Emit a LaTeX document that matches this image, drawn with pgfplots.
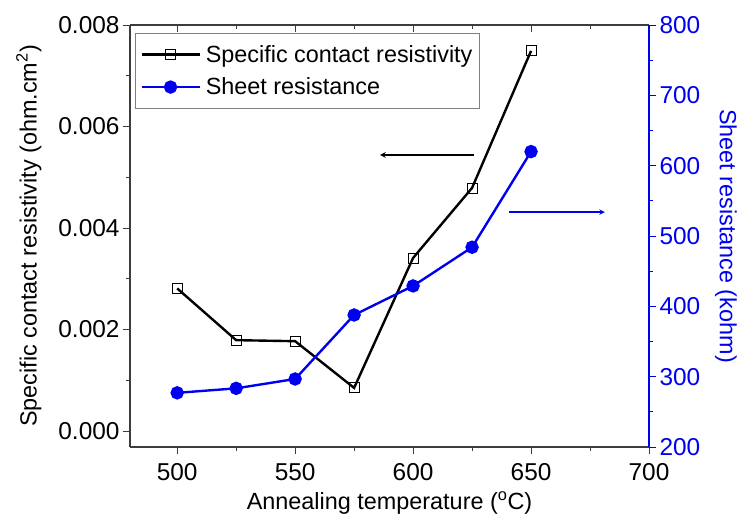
\documentclass[border=0pt]{standalone}
\usepackage{pgfplots}
\pgfplotsset{compat=1.18}
\usepackage{fontspec}
\setmainfont{Liberation Sans}
\definecolor{axgray}{RGB}{60,60,60}
\definecolor{myblue}{RGB}{0,0,240}
\begin{document}
\begin{tikzpicture}
\pgfplotsset{
  every axis/.append style={
    scale only axis, width=519bp, height=422bp,
    xmin=480, xmax=700,
    tick label style={font=\fontsize{24.5}{28}\selectfont},
    label style={font=\fontsize{23.5}{27}\selectfont},
    /pgf/number format/assume math mode=true,
    major tick length=7bp, minor tick length=4bp,
    every tick/.style={line width=0.9pt},
    axis line style={line width=1.1pt},
  }
}
% left axis + bottom x axis
\begin{axis}[
  axis x line*=bottom, axis y line*=left,
  tick align=outside,
  axis line style={axgray},
  every tick/.append style={axgray},
  xtick={500,550,...,700}, minor x tick num=1,
  xticklabel style={yshift=-6bp},
  ymin=-0.000315, ymax=0.008,
  ytick={0,0.002,0.004,0.006,0.008}, minor y tick num=1,
  scaled y ticks=false,
  yticklabel style={/pgf/number format/.cd, fixed, fixed zerofill, precision=3},
  xlabel={Annealing temperature (\textsuperscript{o}C)},
  ylabel={Specific contact resistivity (ohm.cm\textsuperscript{2})},
  xlabel style={yshift=-4bp},
  ylabel style={yshift=10bp},
]
\addplot[black, line width=2.4pt, mark=square, mark size=5bp,
  mark options={fill=white, line width=0.8pt}] coordinates {
  (500,0.00281) (525,0.00179) (550,0.00177) (575,0.00085)
  (600,0.00341) (625,0.00479) (650,0.00749)};
\draw[-stealth, black, line width=1.5pt] (axis cs:626,0.00544) -- (axis cs:586,0.00544);
\end{axis}
% top x axis, ticks inside
\begin{axis}[
  axis x line*=top, axis y line=none,
  tick align=inside,
  axis line style={axgray},
  every tick/.append style={axgray},
  xtick={500,550,...,700}, minor x tick num=1,
  xticklabels={},
  ymin=0, ymax=1,
]
\end{axis}
% right axis
\begin{axis}[
  axis x line=none, axis y line*=right,
  tick align=outside,
  axis line style={myblue},
  every tick/.append style={myblue},
  yticklabel style={myblue},
  ymin=200, ymax=800,
  ytick={200,300,...,800}, minor y tick num=1,
  ylabel={Sheet resistance (kohm)},
  ylabel style={myblue, rotate=180, yshift=8bp},
  legend style={at={(rel axis cs:0.0096,0.981)}, anchor=north west,
    draw=gray, line width=0.8pt, font=\fontsize{23.5}{27}\selectfont,
    inner xsep=5bp, inner ysep=10bp, row sep=10bp,
    cells={anchor=west}},
  legend image code/.code={
    \draw[mark repeat=2, mark phase=2, #1] plot coordinates {(0bp,0bp) (29bp,0bp) (58bp,0bp)};},
]
\addlegendimage{black, line width=2.4pt, mark=square, mark size=5bp,
  mark options={fill=white, line width=0.8pt}}
\addlegendentry{\hspace*{3bp}Specific contact resistivity\hspace{18bp}}
\addplot[myblue, line width=2.4pt, mark=*, mark size=5.5bp] coordinates {
  (500,277) (525,283.4) (550,296.7) (575,387.7)
  (600,429) (625,484) (650,620)};
\addlegendentry{\hspace*{3bp}Sheet resistance}
\draw[-stealth, myblue, line width=1.5pt] (axis cs:640.7,534) -- (axis cs:681.3,534);
\end{axis}
\pgfresetboundingbox
\path ([shift={(-130bp,-68bp)}]current axis.south west) rectangle ([shift={(93bp,25bp)}]current axis.north east);
\end{tikzpicture}
\end{document}
